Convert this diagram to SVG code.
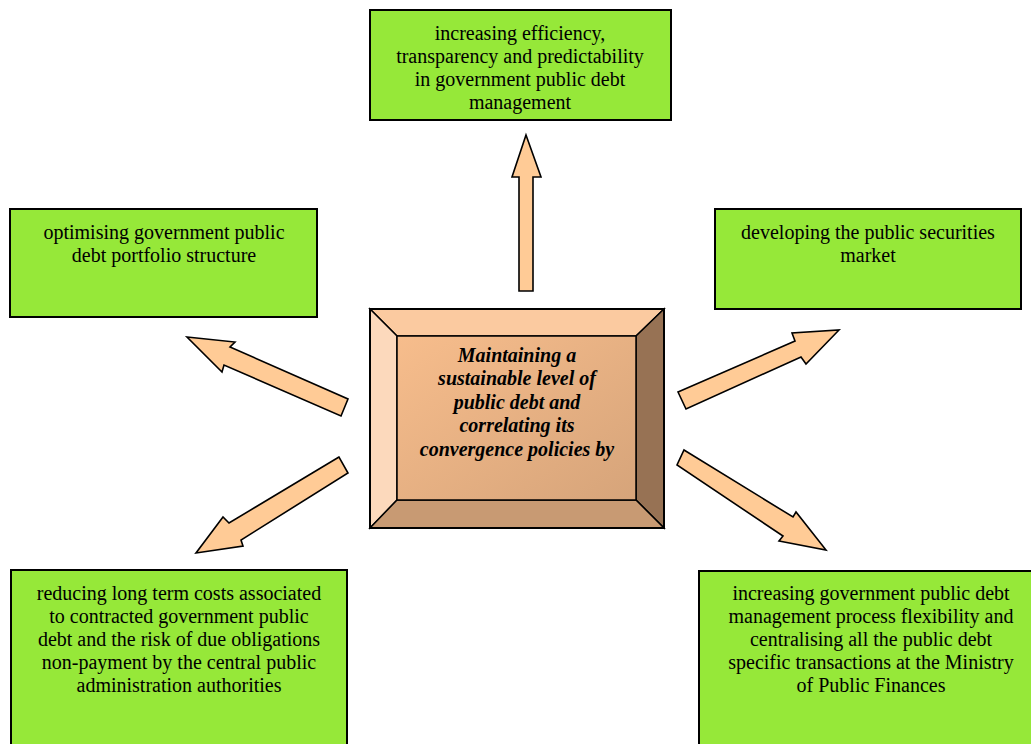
<svg xmlns="http://www.w3.org/2000/svg" width="1031" height="744" viewBox="0 0 1031 744">
<defs>
<linearGradient id="face" x1="0" y1="0" x2="1" y2="1">
<stop offset="0" stop-color="#F7BD8C"/>
<stop offset="1" stop-color="#D6A47A"/>
</linearGradient>
<style>
.box{fill:#96E839;stroke:#000;stroke-width:2}
.t{font-family:"Liberation Serif","Times New Roman",serif;font-size:20px;fill:#000;text-anchor:middle}
.c{font-family:"Liberation Serif","Times New Roman",serif;font-size:20px;font-weight:bold;font-style:italic;fill:#000;text-anchor:middle}
.arr{fill:#FFCB96;stroke:#000;stroke-width:1.6;stroke-linejoin:miter}
.bev{stroke:#000;stroke-width:1.5}
</style>
</defs>
<rect width="1031" height="744" fill="#fff"/>

<g id="center">
<polygon class="bev" points="370,309 664,309 636,336 397,336" fill="#FBCAA0"/>
<polygon class="bev" points="370,309 397,336 397,500 370,528" fill="#FCD9BC"/>
<polygon class="bev" points="664,309 664,528 636,500 636,336" fill="#977254"/>
<polygon class="bev" points="370,528 397,500 636,500 664,528" fill="#C89A73"/>
<rect x="397" y="336" width="239" height="164" fill="url(#face)" class="bev"/>
<rect x="370" y="309" width="294" height="219" fill="none" stroke="#000" stroke-width="2"/>
<text class="c" x="517" y="362">Maintaining a</text>
<text class="c" x="517" y="385">sustainable level of</text>
<text class="c" x="517" y="409">public debt and</text>
<text class="c" x="517" y="432">correlating its</text>
<text class="c" x="517" y="456">convergence policies by</text>
</g>

<g id="top">
<rect class="box" x="370" y="10" width="301" height="110"/>
<text class="t" x="520" y="40">increasing efficiency,</text>
<text class="t" x="520" y="63">transparency and predictability</text>
<text class="t" x="520" y="86">in government public debt</text>
<text class="t" x="520" y="109">management</text>
</g>

<g id="left">
<rect class="box" x="10" y="209" width="307" height="108"/>
<text class="t" x="164" y="239">optimising government public</text>
<text class="t" x="164" y="262">debt portfolio structure</text>
</g>

<g id="right">
<rect class="box" x="715" y="209" width="306" height="100"/>
<text class="t" x="868" y="239">developing the public securities</text>
<text class="t" x="868" y="262">market</text>
</g>

<g id="bottomleft">
<rect class="box" x="11" y="570" width="336" height="185"/>
<text class="t" x="179" y="600">reducing long term costs associated</text>
<text class="t" x="179" y="623">to contracted government public</text>
<text class="t" x="179" y="646">debt and the risk of due obligations</text>
<text class="t" x="179" y="669">non-payment by the central public</text>
<text class="t" x="179" y="692">administration authorities</text>
</g>

<g id="bottomright">
<rect class="box" x="699" y="571" width="344" height="185"/>
<text class="t" x="871" y="600">increasing government public debt</text>
<text class="t" x="871" y="623">management process flexibility and</text>
<text class="t" x="871" y="646">centralising all the public debt</text>
<text class="t" x="871" y="669">specific transactions at the Ministry</text>
<text class="t" x="871" y="692">of Public Finances</text>
</g>

<g id="connectors">
<polygon class="arr" points="526,135 541,177 533,177 533,291 519,291 519,177 512,177"/>
<polygon class="arr" points="187,337 235,342 230,347 348,399 341,416 224,365 222,372"/>
<polygon class="arr" points="339,457 229,523 223,517 196,553 243,546 241,540 348,473"/>
<polygon class="arr" points="678,392 795,341 792,333 839,330 806,364 801,357 686,409"/>
<polygon class="arr" points="684,450 793,517 796,512 826,550 779,541 783,536 677,465"/>
</g>
</svg>
